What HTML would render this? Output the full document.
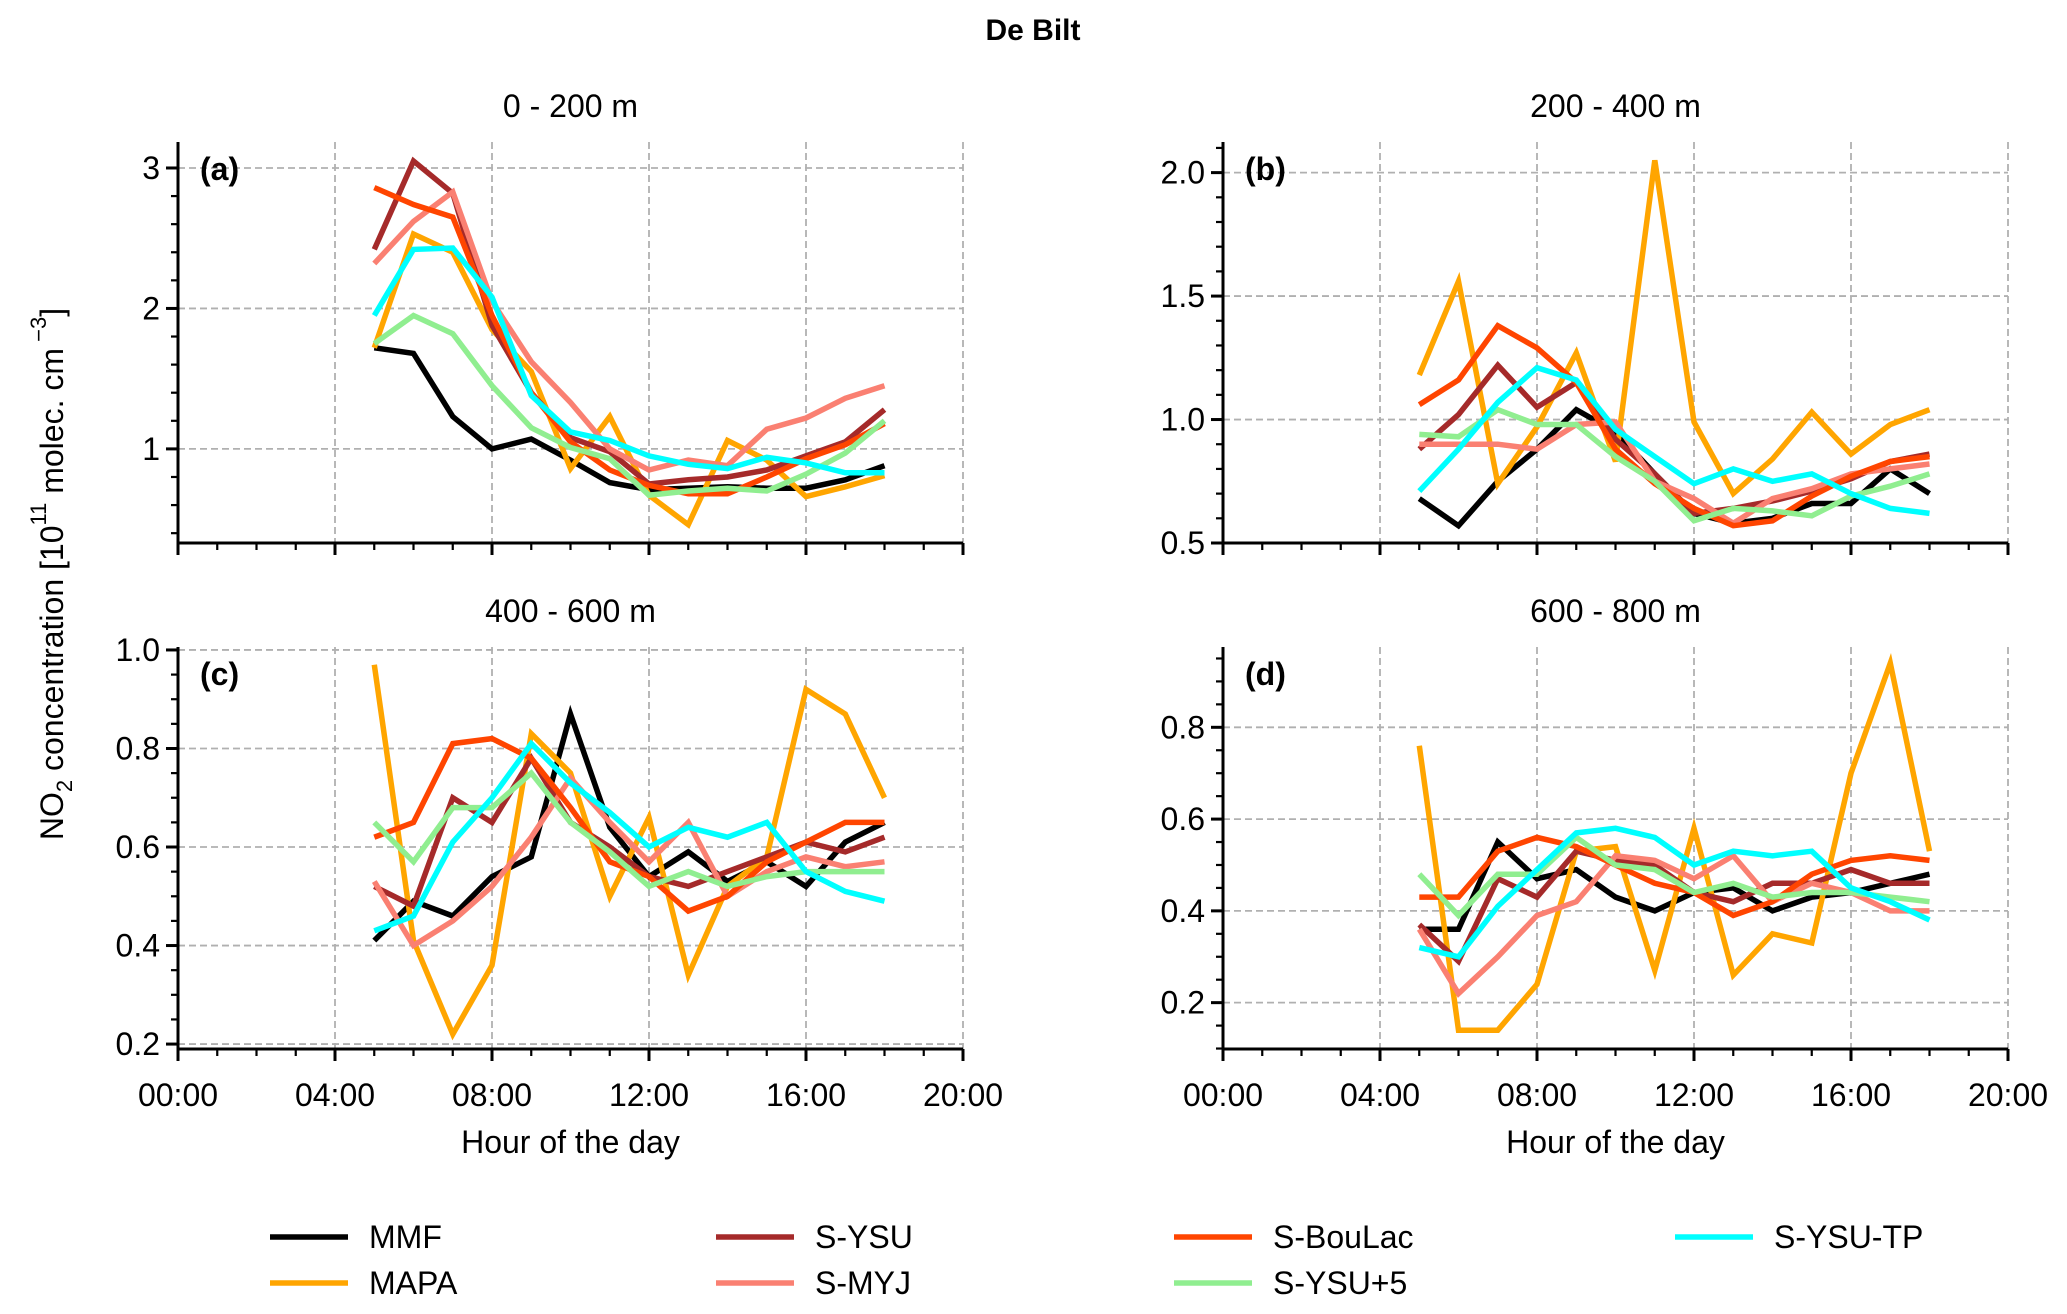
<!DOCTYPE html>
<html><head><meta charset="utf-8"><style>
html,body{margin:0;padding:0;background:#fff;}
svg{display:block;font-family:"Liberation Sans",Arial,sans-serif;}
</style></head><body>
<svg id="chart" width="2067" height="1314" viewBox="0 0 2067 1314" xmlns="http://www.w3.org/2000/svg">
<text x="1033" y="40" text-anchor="middle" font-size="30" font-weight="bold">De Bilt</text>
<text transform="translate(63,574) rotate(-90)" text-anchor="middle" font-size="32">NO<tspan font-size="22" dy="9">2</tspan><tspan dy="-9"> concentration [10</tspan><tspan font-size="22" dy="-17">11</tspan><tspan dy="17">  molec. cm</tspan><tspan font-size="22" dy="-17"> −3</tspan><tspan dy="17">]</tspan></text>
</svg>
<script>
const hours = [5,6,7,8,9,10,11,12,13,14,15,16,17,18];
const seriesNames = ["MMF","MAPA","S-YSU","S-MYJ","S-BouLac","S-YSU+5","S-YSU-TP"];
const seriesColors = ["#000000","#FFA500","#A52A2A","#FA8072","#FF4500","#90EE90","#00FFFF"];
const xTickLabels = ["00:00","04:00","08:00","12:00","16:00","20:00"];
const xTickHours = [0,4,8,12,16,20];

const panelTitles = ["0 - 200 m","200 - 400 m","400 - 600 m","600 - 800 m"];
const panelLetters = ["(a)","(b)","(c)","(d)"];

const aMMF   = [1.72,1.68,1.23,1.00,1.07,0.92,0.76,0.71,0.72,0.73,0.72,0.72,0.78,0.88];
const aMAPA  = [1.72,2.53,2.40,1.85,1.55,0.86,1.23,0.67,0.46,1.06,0.92,0.66,0.73,0.81];
const aYSU   = [2.42,3.05,2.82,1.88,1.40,1.08,0.98,0.75,0.78,0.80,0.85,0.95,1.05,1.28];
const aMYJ   = [2.32,2.62,2.83,2.05,1.62,1.33,1.00,0.85,0.92,0.88,1.14,1.22,1.36,1.45];
const aBou   = [2.86,2.74,2.65,1.95,1.40,1.05,0.85,0.74,0.68,0.68,0.80,0.93,1.03,1.18];
const aYSU5  = [1.75,1.95,1.82,1.45,1.15,1.01,0.93,0.67,0.70,0.72,0.70,0.82,0.97,1.20];
const aTP    = [1.95,2.42,2.43,2.08,1.38,1.12,1.06,0.95,0.89,0.86,0.94,0.90,0.83,0.83];

const bMMF   = [0.68,0.57,0.75,0.88,1.04,0.95,0.78,0.62,0.58,0.60,0.66,0.66,0.80,0.70];
const bMAPA  = [1.18,1.56,0.74,0.97,1.27,0.83,2.05,0.99,0.70,0.84,1.03,0.86,0.98,1.04];
const bYSU   = [0.88,1.02,1.22,1.05,1.15,0.92,0.78,0.62,0.64,0.67,0.71,0.76,0.83,0.86];
const bMYJ   = [0.90,0.90,0.90,0.88,0.98,0.99,0.75,0.68,0.58,0.68,0.72,0.78,0.80,0.82];
const bBou   = [1.06,1.16,1.38,1.29,1.15,0.88,0.74,0.64,0.57,0.59,0.69,0.77,0.83,0.85];
const bYSU5  = [0.94,0.93,1.04,0.98,0.98,0.85,0.75,0.59,0.64,0.63,0.61,0.69,0.73,0.78];
const bTP    = [0.71,0.88,1.07,1.21,1.16,0.96,0.85,0.74,0.80,0.75,0.78,0.70,0.64,0.62];

const cMMF   = [0.41,0.49,0.46,0.54,0.58,0.87,0.64,0.54,0.59,0.53,0.57,0.52,0.61,0.65];
const cMAPA  = [0.97,0.41,0.22,0.36,0.83,0.75,0.50,0.66,0.34,0.52,0.58,0.92,0.87,0.70];
const cYSU   = [0.52,0.48,0.70,0.65,0.78,0.65,0.60,0.54,0.52,0.55,0.58,0.61,0.59,0.62];
const cMYJ   = [0.53,0.40,0.45,0.52,0.62,0.74,0.65,0.57,0.65,0.50,0.55,0.58,0.56,0.57];
const cBou   = [0.62,0.65,0.81,0.82,0.78,0.68,0.57,0.54,0.47,0.50,0.57,0.61,0.65,0.65];
const cYSU5  = [0.65,0.57,0.68,0.68,0.75,0.65,0.59,0.52,0.55,0.52,0.54,0.55,0.55,0.55];
const cTP    = [0.43,0.46,0.61,0.70,0.81,0.73,0.67,0.60,0.64,0.62,0.65,0.55,0.51,0.49];

const dMMF   = [0.36,0.36,0.55,0.47,0.49,0.43,0.40,0.44,0.45,0.40,0.43,0.44,0.46,0.48];
const dMAPA  = [0.76,0.14,0.14,0.24,0.53,0.54,0.27,0.58,0.26,0.35,0.33,0.70,0.94,0.53];
const dYSU   = [0.37,0.29,0.47,0.43,0.53,0.51,0.50,0.44,0.42,0.46,0.46,0.49,0.46,0.46];
const dMYJ   = [0.36,0.22,0.30,0.39,0.42,0.52,0.51,0.47,0.52,0.42,0.46,0.44,0.40,0.40];
const dBou   = [0.43,0.43,0.53,0.56,0.54,0.50,0.46,0.44,0.39,0.42,0.48,0.51,0.52,0.51];
const dYSU5  = [0.48,0.39,0.48,0.48,0.56,0.50,0.49,0.44,0.46,0.43,0.44,0.44,0.43,0.42];
const dTP    = [0.32,0.30,0.41,0.49,0.57,0.58,0.56,0.50,0.53,0.52,0.53,0.45,0.42,0.38];

const aTicks = [1,2,3];
const bTicks = [0.5,1.0,1.5,2.0];
const cTicks = [0.2,0.4,0.6,0.8,1.0];
const dTicks = [0.2,0.4,0.6,0.8];
const aTickLabels = ["1","2","3"];
const bTickLabels = ["0.5","1.0","1.5","2.0"];
const cTickLabels = ["0.2","0.4","0.6","0.8","1.0"];
const dTickLabels = ["0.2","0.4","0.6","0.8"];

const NS = "http://www.w3.org/2000/svg";
const svg = document.getElementById("chart");
function mk(tag, attrs, parent){
  const e = document.createElementNS(NS, tag);
  for (const k in attrs) e.setAttribute(k, attrs[k]);
  (parent||svg).appendChild(e);
  return e;
}
const FS = 32;

const panels = [
  {L:178,R:963,T:142,B:543,ymin:0.33,ymax:3.185,minor:0.2,ticks:aTicks,labels:aTickLabels,data:[aMMF,aMAPA,aYSU,aMYJ,aBou,aYSU5,aTP],xlabels:false},
  {L:1223,R:2008,T:142,B:543,ymin:0.5,ymax:2.124,minor:0.1,ticks:bTicks,labels:bTickLabels,data:[bMMF,bMAPA,bYSU,bMYJ,bBou,bYSU5,bTP],xlabels:false},
  {L:178,R:963,T:647,B:1049,ymin:0.19,ymax:1.006,minor:0.05,ticks:cTicks,labels:cTickLabels,data:[cMMF,cMAPA,cYSU,cMYJ,cBou,cYSU5,cTP],xlabels:true},
  {L:1223,R:2008,T:647,B:1049,ymin:0.099,ymax:0.975,minor:0.05,ticks:dTicks,labels:dTickLabels,data:[dMMF,dMAPA,dYSU,dMYJ,dBou,dYSU5,dTP],xlabels:true}
];

panels.forEach((p,i)=>{
  const g = mk("g",{});
  
  
  const xs = h => p.L + (h/20)*(p.R-p.L);
  const ys = v => p.B - (v-p.ymin)/(p.ymax-p.ymin)*(p.B-p.T);
  const t = mk("text",{x:(p.L+p.R)/2,y:p.T-25,"text-anchor":"middle","font-size":FS},g);
  t.textContent = panelTitles[i];
  
  
  xTickHours.forEach(h=>{
    if (h===0) return;
    const gl = mk("line",{x1:xs(h),x2:xs(h),y1:p.T,y2:p.B,stroke:"#b0b0b0","stroke-width":1.8,"stroke-dasharray":"7,4"},g);
    
    
  });
  p.ticks.forEach((v,k)=>{
    const gl = mk("line",{x1:p.L,x2:p.R,y1:ys(v),y2:ys(v),stroke:"#b0b0b0","stroke-width":1.8,"stroke-dasharray":"7,4"},g);
    
    
    const tk = mk("line",{x1:p.L-12,x2:p.L,y1:ys(v),y2:ys(v),stroke:"#000","stroke-width":3},g);
    
    
    const tl = mk("text",{x:p.L-18,y:ys(v)+11,"text-anchor":"end","font-size":FS},g);
    tl.textContent = p.labels[k];
    
    
  });
  const n0 = Math.ceil(p.ymin/p.minor - 1e-6), n1 = Math.floor(p.ymax/p.minor + 1e-6);
  for (let n=n0;n<=n1;n++){
    const v = n*p.minor;
    const mt = mk("line",{x1:p.L-7,x2:p.L,y1:ys(v),y2:ys(v),stroke:"#000","stroke-width":2.2},g);
    
    
  }
  for (let h=0;h<=20;h++){
    const major = h%4===0;
    const xt = mk("line",{x1:xs(h),x2:xs(h),y1:p.B,y2:p.B+(major?12:7),stroke:"#000","stroke-width":major?3:2.2},g);
    
    
  }
  if (p.xlabels){
    xTickHours.forEach((h,k)=>{
      const xl = mk("text",{x:xs(h),y:p.B+57,"text-anchor":"middle","font-size":FS},g);
      xl.textContent = xTickLabels[k];
      
      
    });
    const xt = mk("text",{x:(p.L+p.R)/2,y:p.B+104,"text-anchor":"middle","font-size":FS},g);
    xt.textContent = "Hour of the day";
    
    
  }
  p.data.forEach((arr,s)=>{
    const pts = arr.map((v,k)=>xs(hours[k]).toFixed(1)+","+ys(v).toFixed(1)).join(" ");
    const pl = mk("polyline",{points:pts,fill:"none",stroke:seriesColors[s],"stroke-width":5.5,"stroke-linejoin":"miter"},g);
    
    
  });
  const sl = mk("line",{x1:p.L,x2:p.L,y1:p.T,y2:p.B+1.5,stroke:"#000","stroke-width":3},g);
  
  
  const sb = mk("line",{x1:p.L-1.5,x2:p.R,y1:p.B,y2:p.B,stroke:"#000","stroke-width":3},g);
  
  
  const lt = mk("text",{x:p.L+22,y:p.T+38,"font-size":FS,"font-weight":"bold"},g);
  lt.textContent = panelLetters[i];
  
  
});

const legendCols = [270,716,1174,1675];
const legendRows = [1237,1283];
const legendOrder = [0,1,2,3,4,5,6];
const lg = mk("g",{});


legendOrder.forEach((s,k)=>{
  const col = Math.floor(k/2), row = k%2;
  const x = legendCols[col], y = legendRows[row];
  const e = mk("g",{},lg);
  
  
  mk("line",{x1:x,x2:x+78,y1:y,y2:y,stroke:seriesColors[s],"stroke-width":5.5},e);
  const tx = mk("text",{x:x+99,y:y+11,"font-size":FS},e);
  tx.textContent = seriesNames[s];
});
</script>
</body></html>
